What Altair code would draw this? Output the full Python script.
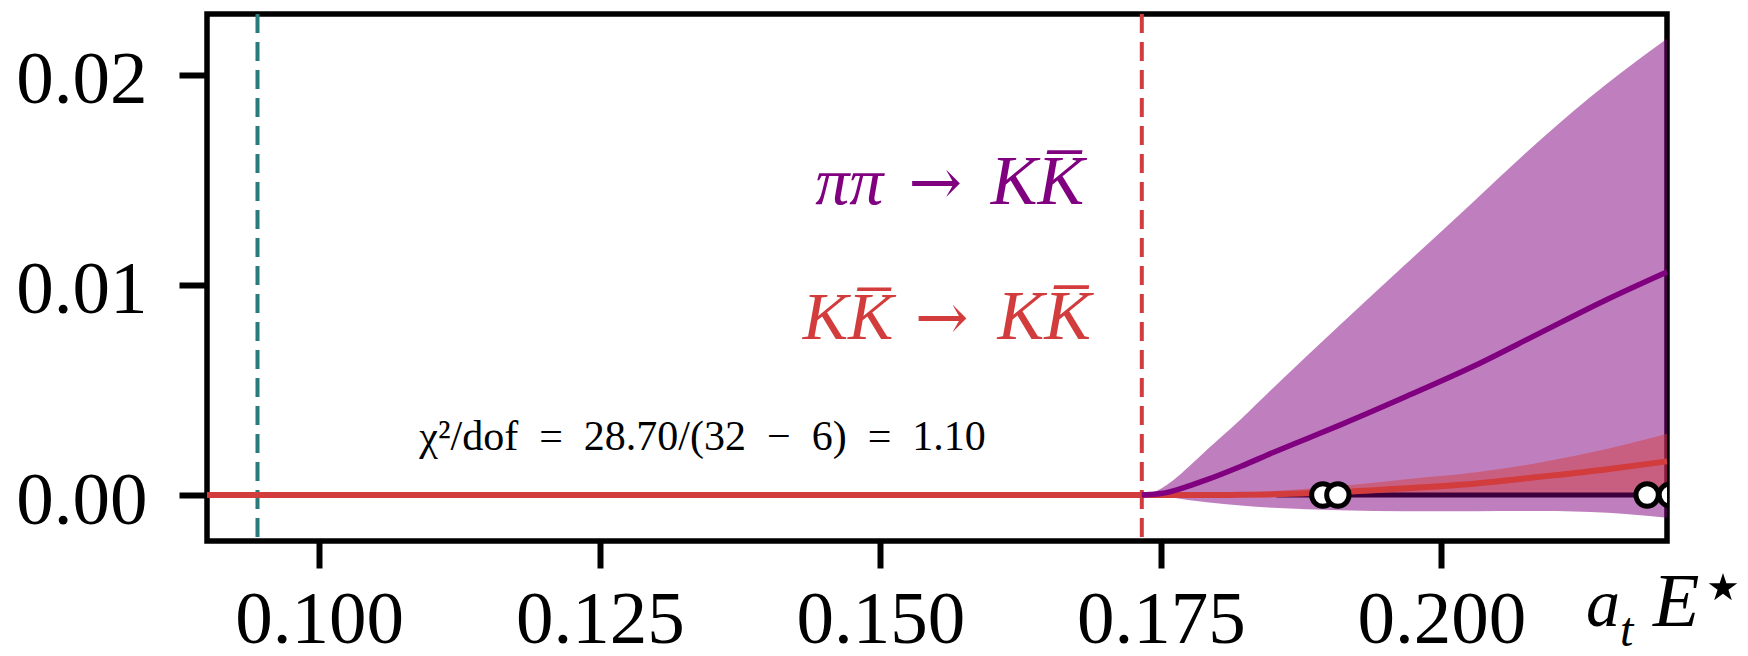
import altair as alt
import pandas as pd

# ---- data ----
x_domain = [0.0900, 0.2201]
y_domain = [-0.00219, 0.0229]
x_ticks = [0.100, 0.125, 0.150, 0.175, 0.200]
y_ticks = [0.00, 0.01, 0.02]

threshold_teal = 0.0945
threshold_red = 0.1733

band_x = [0.1733, 0.1740, 0.1750, 0.1761, 0.1776, 0.1791, 0.1821, 0.1850, 0.1880, 0.1910, 0.1969, 0.2029, 0.2088, 0.2148, 0.2201]
purple_hi = [0.0, 0.00008, 0.00030, 0.00070, 0.00140, 0.00215, 0.00360, 0.00510, 0.00662, 0.00812, 0.01103, 0.01399, 0.01690, 0.01960, 0.02172]
purple_lo = [0.0, -0.00002, -0.00006, -0.00013, -0.00025, -0.00035, -0.00050, -0.00061, -0.00068, -0.00073, -0.00077, -0.00077, -0.00076, -0.00085, -0.00108]
purple_mid = [0.0, 0.00002, 0.00007, 0.00020, 0.00045, 0.00073, 0.00136, 0.00202, 0.00268, 0.00334, 0.00470, 0.00614, 0.00772, 0.00932, 0.01062]
red_hi = [0.0, 0.0, 0.00001, 0.00002, 0.00003, 0.00004, 0.00010, 0.00019, 0.00030, 0.00043, 0.00075, 0.00107, 0.00155, 0.00220, 0.00292]
red_lo = [0.0] * len(band_x)
red_mid = [0.0, 0.0, 0.0, 0.0, 0.0, 0.0, 0.00001, 0.00003, 0.00008, 0.00014, 0.00032, 0.00054, 0.00087, 0.00123, 0.00160]

red_line_x = [0.0900] + band_x
red_line_y = [0.0] + red_mid

dark_x = [0.1853, 0.2201]
dark_y = [0.0, 0.0]

pts_x = [0.18943, 0.19077, 0.21833, 0.2204]
pts_y = [0.0, 0.0, 0.0, 0.0]

# channel labels: left side, arrow, right side
lab_left = ["ππ", "KK̅"]
lab_left_x = [0.15027, 0.15116]
lab_arrow_x = [0.15490, 0.15548]
lab_right = ["KK̅", "KK̅"]
lab_right_x = [0.15985, 0.16045]
labels_y = [0.01384, 0.00743]
labels_color = ["#800080", "#d23c3c"]

chi_text = ["χ²/dof\u2002=\u200228.70/(32\u2002−\u20026)\u2002=\u20021.10"]
chi_x = [0.13416]
chi_y = [0.00214]

PURPLE = "#800080"
RED = "#d23c3c"
TEAL = "#2a7b7b"
FONT = "Liberation Serif"
STAR = "M0,-1L0.2245,-0.309L0.951,-0.309L0.3633,0.118L0.5878,0.809L0,0.382L-0.5878,0.809L-0.3633,0.118L-0.951,-0.309L-0.2245,-0.309Z"

band_df = pd.DataFrame({"x": band_x, "phi": purple_hi, "plo": purple_lo,
                        "pmid": purple_mid, "rhi": red_hi, "rlo": red_lo})
red_df = pd.DataFrame({"x": red_line_x, "y": red_line_y})
dark_df = pd.DataFrame({"x": dark_x, "y": dark_y})
pts_df = pd.DataFrame({"x": pts_x, "y": pts_y})
vl_df = pd.DataFrame({"x": [threshold_teal, threshold_red], "c": [TEAL, RED]})
lab_df = pd.DataFrame({"xl": lab_left_x, "xa": lab_arrow_x, "xr": lab_right_x, "y": labels_y,
                       "tl": lab_left, "tr": lab_right, "ta": ["→", "→"], "c": labels_color})
chi_df = pd.DataFrame({"x": chi_x, "y": chi_y, "t": chi_text})

xs = alt.Scale(domain=x_domain, nice=False, zero=False)
ys = alt.Scale(domain=y_domain, nice=False, zero=False)

X = alt.X("x:Q", scale=xs, axis=alt.Axis(values=x_ticks, format=".3f", title=None))
Y = alt.Y("phi:Q", scale=ys, axis=alt.Axis(values=y_ticks, format=".2f", title=None))

purple_band = alt.Chart(band_df).mark_area(color=PURPLE, opacity=0.5, interpolate="monotone").encode(
    x=X, y=Y, y2="plo:Q")
red_band = alt.Chart(band_df).mark_area(color=RED, opacity=0.47, interpolate="monotone").encode(
    x=alt.X("x:Q", scale=xs), y=alt.Y("rhi:Q", scale=ys), y2="rlo:Q")
vlines = alt.Chart(vl_df).mark_rule(strokeWidth=4, strokeDash=[19, 9]).encode(
    x=alt.X("x:Q", scale=xs), color=alt.Color("c:N", scale=None))
dark_line = alt.Chart(dark_df).mark_line(color="#3c003c", strokeWidth=5).encode(
    x=alt.X("x:Q", scale=xs), y=alt.Y("y:Q", scale=ys))
red_line = alt.Chart(red_df).mark_line(color=RED, strokeWidth=6, interpolate="monotone").encode(
    x=alt.X("x:Q", scale=xs), y=alt.Y("y:Q", scale=ys))
purple_line = alt.Chart(band_df).mark_line(color=PURPLE, strokeWidth=5.5, interpolate="monotone").encode(
    x=alt.X("x:Q", scale=xs), y=alt.Y("pmid:Q", scale=ys))
points = alt.Chart(pts_df).mark_point(shape="circle", fill="white", fillOpacity=1, stroke="black",
                                       strokeWidth=5, size=500, opacity=1, clip=True).encode(
    x=alt.X("x:Q", scale=xs), y=alt.Y("y:Q", scale=ys))

lab_base = alt.Chart(lab_df)
lab_l = lab_base.mark_text(font=FONT, fontSize=68, fontStyle="italic", align="right",
                           baseline="alphabetic").encode(
    x=alt.X("xl:Q", scale=xs), y=alt.Y("y:Q", scale=ys), text="tl:N", color=alt.Color("c:N", scale=None))
lab_a = lab_base.mark_text(font="DejaVu Serif", fontSize=64, align="center",
                           baseline="alphabetic").encode(
    x=alt.X("xa:Q", scale=xs), y=alt.Y("y:Q", scale=ys), text="ta:N", color=alt.Color("c:N", scale=None))
lab_r = lab_base.mark_text(font=FONT, fontSize=70, fontStyle="italic", align="left",
                           baseline="alphabetic").encode(
    x=alt.X("xr:Q", scale=xs), y=alt.Y("y:Q", scale=ys), text="tr:N", color=alt.Color("c:N", scale=None))

chi = alt.Chart(chi_df).mark_text(font=FONT, fontSize=42, align="center", baseline="alphabetic",
                                  color="black").encode(
    x=alt.X("x:Q", scale=xs), y=alt.Y("y:Q", scale=ys), text="t:N")

# x-axis title a_t E^*, built from pieces placed just right of the last tick label
ttl = alt.Chart(chi_df)
t_a = ttl.mark_text(text="a", font=FONT, fontSize=68, fontStyle="italic", align="left",
                    baseline="alphabetic", color="black").encode(x=alt.value(1379), y=alt.value(612))
t_t = ttl.mark_text(text="t", font=FONT, fontSize=48, fontStyle="italic", align="left",
                    baseline="alphabetic", color="black").encode(x=alt.value(1413), y=alt.value(632))
t_E = ttl.mark_text(text="E", font=FONT, fontSize=76, fontStyle="italic", align="left",
                    baseline="alphabetic", color="black").encode(x=alt.value(1446), y=alt.value(612))
t_s = ttl.mark_point(shape=STAR, filled=True, color="black", opacity=1, size=900, clip=False).encode(
    x=alt.value(1516), y=alt.value(574))

chart = alt.layer(
    purple_band, red_band, vlines, dark_line, red_line, purple_line, points,
    lab_l, lab_a, lab_r, chi, t_a, t_t, t_E, t_s
).properties(
    width=1460, height=527,
    autosize=alt.AutoSizeParams(type="none"),
    padding={"left": 199, "top": 6, "right": 73, "bottom": 107},
).configure_view(
    stroke="black", strokeWidth=5.5
).configure_axis(
    labelFont=FONT, labelFontSize=75, labelColor="black",
    tickColor="black", tickWidth=6, domain=False, grid=False,
    labelOverlap=False, labelFlush=False,
).configure_axisX(
    tickSize=27, labelPadding=15
).configure_axisY(
    tickSize=28, labelPadding=32, labelOffset=5
)

chart.save("out.html", embed_options={"renderer": "svg", "actions": False})
